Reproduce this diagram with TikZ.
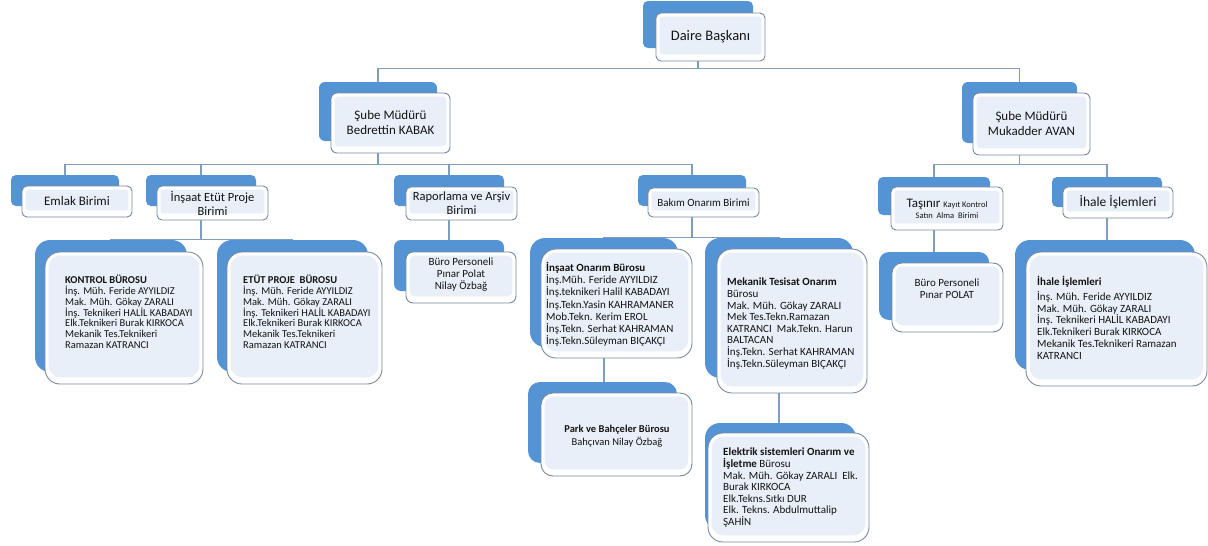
\documentclass[tikz,border=0pt]{standalone}
\usepackage{fontspec}
\setmainfont{Carlito}
\usetikzlibrary{fit}
\definecolor{bback}{RGB}{84,148,212}
\definecolor{fborder}{RGB}{120,136,156}
\definecolor{finner}{RGB}{232,239,248}
\definecolor{cline}{RGB}{128,158,188}
\tikzset{
  backbox/.style={fill=bback, draw=none, inner sep=0pt},
  frontbox/.style={fill=white, draw=fborder, line width=0.9pt, inner sep=0pt},
  conn/.style={draw=cline, line width=1.1pt},
  ctext/.style={align=center, inner sep=0pt, text=black!92},
  ltext/.style={align=left, inner sep=0pt, anchor=north west, text=black!92},
}
% #1 name, #2 back corners, #3 front corners, #4 outer radius, #5 inner radius
\newcommand\ounit[5]{%
  \node[backbox, rounded corners=#4, fit={#2}] (#1B) {};
  \node[frontbox, rounded corners=#4, fit={#3}] (#1) {};
  \fill[finner, rounded corners=#5] ([xshift=4pt,yshift=-4pt]#1.north west) rectangle ([xshift=-4pt,yshift=7pt]#1.south east);
}
\begin{document}
\begin{tikzpicture}[x=1pt,y=-1pt]
\fill[white] (0,0) rectangle (1208,546);
\useasboundingbox (0,0) rectangle (1208,546);

% top levels
\ounit{dai}{(643,1) (753,48)}{(656,13) (765,61)}{5pt}{3pt}
\ounit{bed}{(319,82) (437,141)}{(331,93) (450,153)}{6pt}{4pt}
\ounit{muk}{(962,82) (1077,143)}{(973,93) (1090,155)}{6pt}{4pt}
% units
\ounit{eml}{(11,175) (119,206)}{(22,186) (132,217)}{5pt}{3pt}
\ounit{iep}{(146,175) (256,206)}{(157,186) (268,220)}{5pt}{3pt}
\ounit{rap}{(394,175) (504,206)}{(406,187) (517,220)}{5pt}{3pt}
\ounit{bak}{(638,175) (746,206)}{(648,188) (759,217)}{5pt}{3pt}
\ounit{tas}{(878,177) (990,215)}{(891,187) (1003,230)}{5pt}{3pt}
\ounit{ihl}{(1052,177) (1162,207)}{(1063,187) (1173,218)}{5pt}{3pt}
% offices
\ounit{kon}{(35,240) (187,372)}{(45,252) (203,384)}{15pt}{12pt}
\ounit{etp}{(217,240) (368,372)}{(227,252) (382,384)}{15pt}{12pt}
\ounit{burA}{(394,240) (504,291)}{(406,252) (516,303)}{7pt}{5pt}
\ounit{ion}{(530,238) (678,347)}{(541,249) (692,358)}{15pt}{12pt}
\ounit{park}{(528,382) (677,463)}{(541,393) (692,476)}{12pt}{9pt}
\ounit{mek}{(705,238) (853,378)}{(717,249) (867,393)}{15pt}{12pt}
\ounit{ele}{(705,423) (856,530)}{(708,433) (869,542)}{15pt}{12pt}
\ounit{burB}{(879,252) (989,320)}{(892,263) (1003,332)}{10pt}{7pt}
\ounit{ihb}{(1015,240) (1195,370)}{(1026,252) (1207,386)}{15pt}{12pt}

% texts
\node[ctext, font=\fontsize{14.5}{16}\selectfont] (daiT) at (dai) {Daire Başkanı};
\node[ctext, font=\fontsize{13}{15}\selectfont] (bedT) at (bed) {Şube Müdürü\\Bedrettin KABAK};
\node[ctext, font=\fontsize{13}{15}\selectfont] (mukT) at (muk) {Şube Müdürü\\Mukadder AVAN};
\node[ctext, font=\fontsize{13}{15}\selectfont] (emlT) at (eml) {Emlak Birimi};
\node[ctext, font=\fontsize{12.5}{14}\selectfont] (iepT) at (iep) {İnşaat Etüt Proje\\Birimi};
\node[ctext, font=\fontsize{12.5}{14}\selectfont] (rapT) at (rap) {Raporlama ve Arşiv\\Birimi};
\node[ctext, font=\fontsize{11}{13}\selectfont] (bakT) at (bak) {Bakım Onarım Birimi};
\node[ctext, font=\fontsize{13}{11}\selectfont] (tasT) at (tas) {Taşınır {\fontsize{8.5}{10}\selectfont Kayıt Kontrol}\\{\fontsize{8.5}{10}\selectfont Satın\ \ Alma\ \ Birimi}};
\node[ctext, font=\fontsize{13.5}{15}\selectfont] (ihlT) at (ihl) {İhale İşlemleri};

\node[ltext, font=\fontsize{10.5}{10.8}\selectfont] (konT) at (65,275) {\textbf{KONTROL BÜROSU}\\İnş. Müh. Feride AYYILDIZ\\Mak. Müh. Gökay ZARALI\\İnş. Teknikeri HALİL KABADAYI\\Elk.Teknikeri Burak KIRKOCA\\Mekanik Tes.Teknikeri\\Ramazan KATRANCI};
\node[ltext, font=\fontsize{10.5}{10.8}\selectfont] (etpT) at (243,275) {\textbf{ETÜT PROJE\ \ BÜROSU}\\İnş. Müh. Feride AYYILDIZ\\Mak. Müh. Gökay ZARALI\\İnş. Teknikeri HALİL KABADAYI\\Elk.Teknikeri Burak KIRKOCA\\Mekanik Tes.Teknikeri\\Ramazan KATRANCI};
\node[ctext, font=\fontsize{11}{12}\selectfont] (burAT) at (461,275) {Büro Personeli\\Pınar Polat\\Nilay Özbağ};
\node[ltext, font=\fontsize{11}{12.2}\selectfont] (ionT) at (546,262) {\textbf{İnşaat Onarım Bürosu}\\İnş.Müh. Feride AYYILDIZ\\İnş.teknikeri Halil KABADAYI\\İnş.Tekn.Yasin KAHRAMANER\\Mob.Tekn. Kerim EROL\\İnş.Tekn. Serhat KAHRAMAN\\İnş.Tekn.Süleyman BIÇAKÇI};
\node[ctext, font=\fontsize{10.5}{13}\selectfont] (parkT) at (617,436) {\textbf{Park ve Bahçeler Bürosu}\\Bahçıvan Nilay Özbağ};
\node[ltext, font=\fontsize{11}{11.6}\selectfont] (mekT) at (727,278) {\textbf{Mekanik Tesisat Onarım}\\Bürosu\\Mak. Müh. Gökay ZARALI\\Mek Tes.Tekn.Ramazan\\KATRANCI\ \ Mak.Tekn. Harun\\BALTACAN\\İnş.Tekn. Serhat KAHRAMAN\\İnş.Tekn.Süleyman BIÇAKÇI};
\node[ltext, font=\fontsize{11}{11.6}\selectfont] (eleT) at (723,448) {\textbf{Elektrik sistemleri Onarım ve}\\\textbf{İşletme} Bürosu\\Mak. Müh. Gökay ZARALI\ \ Elk.\\Burak KIRKOCA\\Elk.Tekns.Sıtkı DUR\\Elk. Tekns. Abdulmuttalip\\ŞAHİN};
\node[ctext, font=\fontsize{11}{12}\selectfont] (burBT) at (947,289) {Büro Personeli\\Pınar POLAT};
\node[ltext, font=\fontsize{11}{11.8}\selectfont] (ihbT) at (1037,276) {\textbf{İhale İşlemleri}\\[3pt]İnş. Müh. Feride AYYILDIZ\\Mak. Müh. Gökay ZARALI\\İnş. Teknikeri HALİL KABADAYI\\Elk.Teknikeri Burak KIRKOCA\\Mekanik Tes.Teknikeri Ramazan\\KATRANCI};

% connectors
\draw[conn] (dai.south -| daiB.north) -- ++(0,7) -| (bedB.north);
\draw[conn] (dai.south -| daiB.north) -- ++(0,7) -| (mukB.north);
\foreach \c in {eml,iep,rap,bak}
  \draw[conn] (bed.south -| bedB.north) -- ++(0,11) -| (\c B.north);
\foreach \c in {tas,ihl}
  \draw[conn] (muk.south -| mukB.north) -- ++(0,9) -| (\c B.north);
\foreach \c in {kon,etp}
  \draw[conn] (iep.south -| iepB.north) -- ++(0,19) -| (\c B.north);
\foreach \c in {ion,mek}
  \draw[conn] (bak.south -| bakB.north) -- ++(0,20) -| (\c B.north);
\draw[conn] (rap.south -| rapB.north) -- (rapB.north |- burAB.north);
\draw[conn] (ion.south -| ionB.north) -- (ionB.north |- parkB.north);
\draw[conn] (mek.south -| mekB.north) -- (mekB.north |- eleB.north);
\draw[conn] (tas.south -| tasB.north) -- (tasB.north |- burBB.north);
\draw[conn] (ihl.south -| ihlB.north) -- (ihlB.north |- ihbB.north);
\end{tikzpicture}
\end{document}
